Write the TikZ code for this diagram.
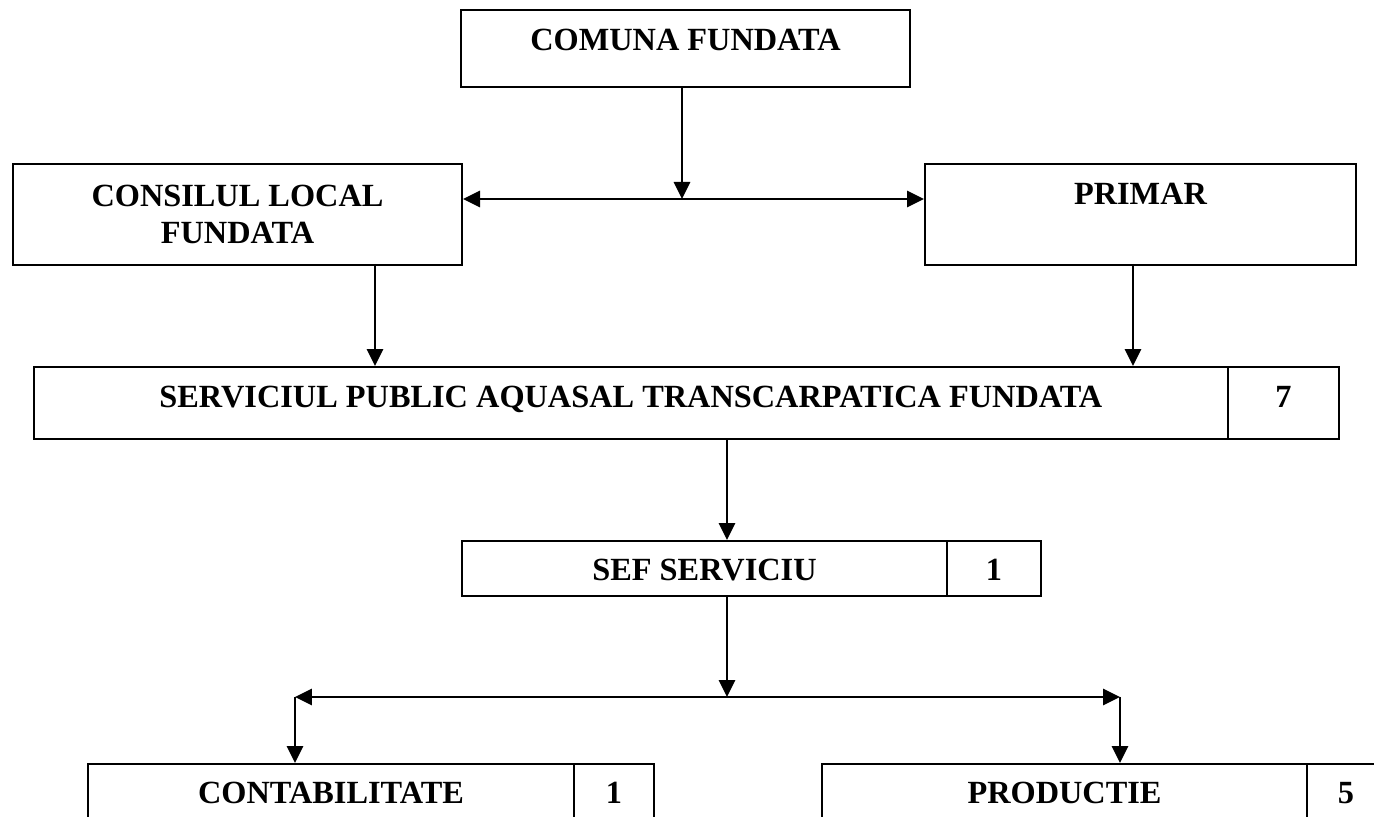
\documentclass[tikz,border=0pt]{standalone}
\usepackage{fontspec}
\setmainfont{Liberation Serif}
\usetikzlibrary{arrows.meta}

\tikzset{
  orgbox/.style={draw, line width=1.2pt, inner sep=0pt, anchor=north west,
    font=\bfseries\fontsize{18.4}{21}\selectfont},
  link/.style={line width=1.6pt, -{Triangle[length=0.34cm,width=0.32cm]}},
  twolink/.style={line width=1.6pt,
    {Triangle[length=0.34cm,width=0.32cm]}-{Triangle[length=0.34cm,width=0.32cm]}}
}

\begin{document}
\begin{tikzpicture}[x=0.02cm, y=-0.02cm]
      \useasboundingbox (0,0) rectangle (1374,817);
      \clip (0,0) rectangle (1374,817);

      % top level
      \node (comuna) [orgbox, minimum width=8.98cm, text height=0.8cm,
      text depth=0.74cm] at (460,9) {COMUNA FUNDATA};
      \node (consiliu) [orgbox, minimum width=8.98cm, minimum
      height=2.02cm, align=center] at (12,163) {CONSILUL LOCAL\\FUNDATA};
      \node (primar) [orgbox, minimum width=8.62cm, text height=0.8cm,
      text depth=1.22cm] at (924,163) {PRIMAR};

      % serviciul public
      \node (serv) [orgbox, minimum width=23.88cm, text height=0.8cm,
      text depth=0.64cm] at (33,366) {SERVICIUL PUBLIC AQUASAL
        TRANSCARPATICA FUNDATA};
      \node (servNr) [orgbox, minimum width=2.22cm, text height=0.8cm,
      text depth=0.64cm] at (1227,366) {7};

      \node (sef) [orgbox, minimum width=9.7cm, text height=0.78cm,
      text depth=0.32cm] at (461,540) {SEF SERVICIU};
      \node (sefNr) [orgbox, minimum width=1.88cm, text height=0.78cm,
      text depth=0.32cm] at (946,540) {1};

      % compartimente
      \node (contab) [orgbox, minimum width=9.72cm, text height=0.78cm,
      text depth=0.96cm] at (87,763) {CONTABILITATE};
      \node (contabNr) [orgbox, minimum width=1.6cm, text height=0.78cm,
      text depth=0.96cm] at (573,763) {1};
      \node (prod) [orgbox, minimum width=9.7cm, text height=0.78cm,
      text depth=0.96cm] at (821,763) {PRODUCTIE};
      \node (prodNr) [orgbox, minimum width=1.56cm, text height=0.78cm,
      text depth=0.96cm] at (1306,763) {5};

      \coordinate (topjoin) at (682,199);
      \coordinate (leftdrop) at (375,264);
      \coordinate (rightdrop) at (1133,264);
      \coordinate (midjoin) at (727,697);
      \coordinate (botleft) at (295,697);
      \coordinate (botright) at (1120,697);

      \draw[link] (topjoin |- comuna.south) -- (topjoin);
      \draw[twolink] (topjoin -| consiliu.east) -- (topjoin -| primar.west);
      \draw[link] (leftdrop) -- (leftdrop |- serv.north);
      \draw[link] (rightdrop) -- (rightdrop |- serv.north);

      \draw[link] (midjoin |- serv.south) -- (midjoin |- sef.north);
      \draw[link] (midjoin |- sef.south) -- (midjoin);
      \draw[twolink] (botleft) -- (botright);
      \draw[link] (botleft) -- (botleft |- contab.north);
      \draw[link] (botright) -- (botright |- prod.north);
\end{tikzpicture}
\end{document}
